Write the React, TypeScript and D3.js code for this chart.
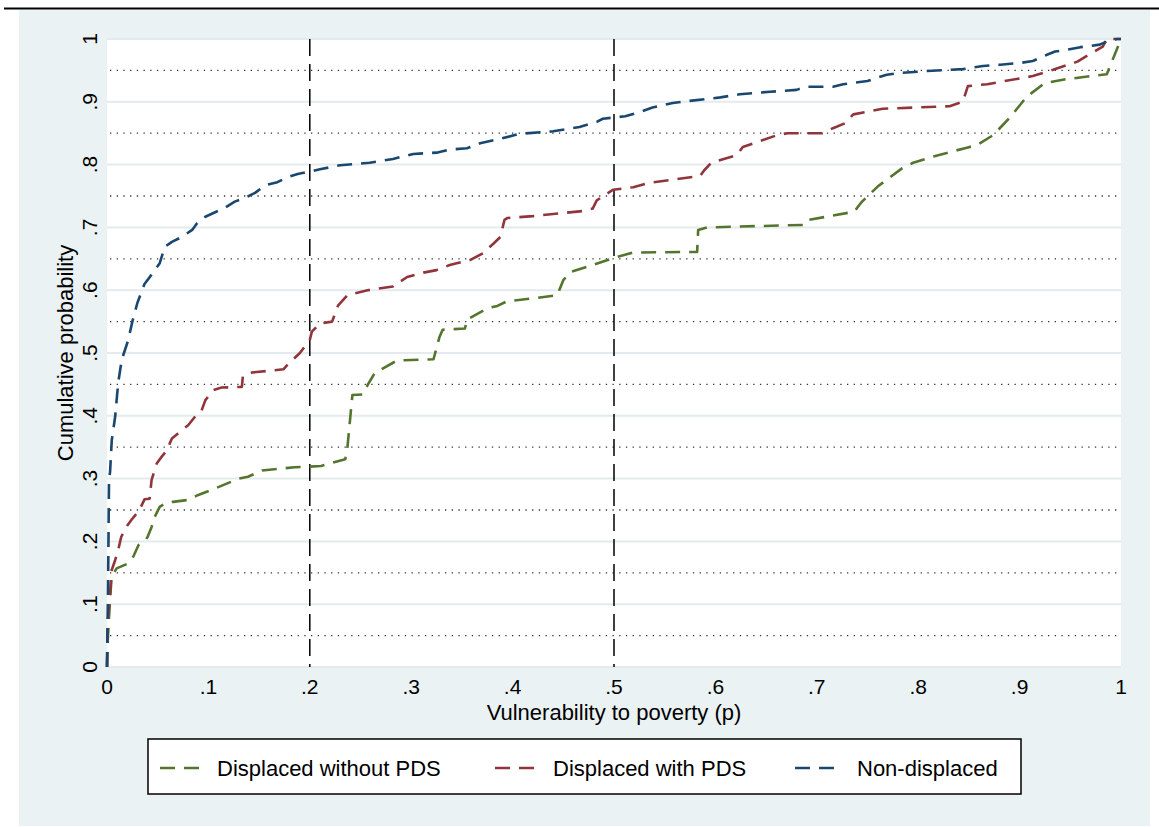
import * as d3 from "d3";
import React from "react";

// cumulative distribution of vulnerability: [p, share]
const nonDisplaced: [number, number][] = [
	[0, 0], [0.001, 0.12], [0.002, 0.3], [0.003, 0.31], [0.0047, 0.361], [0.008, 0.398],
	[0.011, 0.452], [0.0145, 0.489], [0.021, 0.521], [0.025, 0.55], [0.03, 0.58],
	[0.037, 0.61], [0.045, 0.627], [0.052, 0.643], [0.057, 0.669], [0.064, 0.677],
	[0.074, 0.685], [0.084, 0.696], [0.089, 0.707], [0.097, 0.717], [0.105, 0.723],
	[0.116, 0.731], [0.126, 0.741], [0.136, 0.747], [0.146, 0.755], [0.156, 0.767],
	[0.168, 0.772], [0.178, 0.78], [0.188, 0.785], [0.2, 0.789], [0.21, 0.7925],
	[0.23, 0.799], [0.259, 0.803], [0.282, 0.809], [0.302, 0.817], [0.325, 0.819],
	[0.338, 0.824], [0.355, 0.826], [0.368, 0.834], [0.385, 0.84], [0.407, 0.849],
	[0.44, 0.853], [0.466, 0.86], [0.483, 0.868], [0.489, 0.873], [0.511, 0.877],
	[0.526, 0.884], [0.538, 0.891], [0.558, 0.898], [0.572, 0.901], [0.605, 0.907],
	[0.624, 0.912], [0.654, 0.916], [0.68, 0.919], [0.69, 0.924], [0.716, 0.924],
	[0.726, 0.928], [0.75, 0.933], [0.759, 0.938], [0.769, 0.943], [0.782, 0.946],
	[0.809, 0.949], [0.844, 0.952], [0.864, 0.957], [0.881, 0.959], [0.901, 0.962],
	[0.913, 0.965], [0.927, 0.975], [0.935, 0.98], [0.947, 0.983], [0.96, 0.987],
	[0.979, 0.991], [0.986, 0.996], [0.996, 1], [1, 1],
];

const withPDS: [number, number][] = [
	[0, 0], [0.0007, 0.07], [0.003, 0.117], [0.0046, 0.154], [0.008, 0.17], [0.011, 0.186],
	[0.014, 0.207], [0.019, 0.223], [0.024, 0.234], [0.032, 0.25], [0.037, 0.267],
	[0.042, 0.268], [0.044, 0.298], [0.049, 0.324], [0.054, 0.335], [0.059, 0.345],
	[0.064, 0.364], [0.07, 0.372], [0.08, 0.385], [0.087, 0.399], [0.093, 0.407],
	[0.097, 0.425], [0.105, 0.441], [0.113, 0.445], [0.133, 0.446], [0.134, 0.463],
	[0.143, 0.469], [0.174, 0.474], [0.179, 0.483], [0.19, 0.4995], [0.2, 0.521],
	[0.202, 0.534], [0.21, 0.547], [0.222, 0.55], [0.228, 0.576], [0.237, 0.592],
	[0.257, 0.6], [0.282, 0.606], [0.296, 0.621], [0.312, 0.628], [0.325, 0.632],
	[0.338, 0.64], [0.358, 0.648], [0.371, 0.659], [0.381, 0.674], [0.388, 0.685],
	[0.392, 0.712], [0.395, 0.715], [0.42, 0.718], [0.469, 0.726], [0.479, 0.73],
	[0.483, 0.743], [0.499, 0.76], [0.519, 0.764], [0.535, 0.771], [0.585, 0.782],
	[0.589, 0.791], [0.596, 0.803], [0.621, 0.815], [0.627, 0.828], [0.661, 0.847],
	[0.671, 0.85], [0.705, 0.85], [0.716, 0.858], [0.728, 0.866], [0.736, 0.88],
	[0.765, 0.889], [0.799, 0.891], [0.831, 0.893], [0.844, 0.9], [0.849, 0.925],
	[0.868, 0.928], [0.913, 0.941], [0.933, 0.951], [0.957, 0.964], [0.982, 0.988],
	[0.986, 1], [1, 1],
];

const withoutPDS: [number, number][] = [
	[0, 0], [0.0007, 0.042], [0.003, 0.107], [0.0046, 0.144], [0.0095, 0.157],
	[0.021, 0.165], [0.026, 0.176], [0.031, 0.194], [0.037, 0.2], [0.04, 0.207],
	[0.044, 0.223], [0.047, 0.239], [0.052, 0.255], [0.057, 0.26], [0.065, 0.263],
	[0.08, 0.266], [0.09, 0.274], [0.103, 0.282], [0.118, 0.292], [0.13, 0.3],
	[0.139, 0.303], [0.153, 0.313], [0.185, 0.318], [0.211, 0.32], [0.235, 0.331],
	[0.237, 0.348], [0.242, 0.433], [0.252, 0.434], [0.257, 0.449], [0.264, 0.468],
	[0.286, 0.488], [0.322, 0.49], [0.328, 0.526], [0.331, 0.537], [0.353, 0.539],
	[0.355, 0.553], [0.375, 0.571], [0.385, 0.575], [0.394, 0.582], [0.42, 0.587],
	[0.444, 0.592], [0.45, 0.616], [0.457, 0.629], [0.479, 0.64], [0.499, 0.651],
	[0.519, 0.66], [0.582, 0.661], [0.583, 0.696], [0.592, 0.7], [0.688, 0.704],
	[0.692, 0.712], [0.737, 0.725], [0.744, 0.74], [0.76, 0.765], [0.784, 0.794],
	[0.795, 0.803], [0.815, 0.813], [0.848, 0.827], [0.858, 0.831], [0.874, 0.847],
	[0.891, 0.876], [0.907, 0.908], [0.925, 0.93], [0.946, 0.936], [0.986, 0.944],
	[0.991, 0.964], [1, 1],
];

const seriesNames = ["Displaced without PDS", "Displaced with PDS", "Non-displaced"];
const seriesColors = ["#55752f", "#90353b", "#1a476f"];
const seriesData = [withoutPDS, withPDS, nonDisplaced];

const majorTicks = d3.range(0, 11).map((i) => i / 10);
const minorTicks = d3.range(0, 10).map((i) => i / 10 + 0.05);
const refLines = [0.2, 0.5];
const tickLabel = (v: number) => (v === 0 ? "0" : v === 1 ? "1" : "." + Math.round(v * 10));

const FONT = "'Liberation Sans', Arial, Helvetica, sans-serif";

const App = () => {
	const W = 1159;
	const H = 827;
	const left = 107;
	const right = 1121;
	const top = 39;
	const bottom = 667;

	const x = d3.scaleLinear().domain([0, 1]).range([left, right]);
	const y = d3.scaleLinear().domain([0, 1]).range([bottom, top]);

	const line = d3
		.line<[number, number]>()
		.x((d) => x(d[0]))
		.y((d) => y(d[1]));

	const legendX = [160, 495, 795];
	const legendTextX = [217, 553, 857];

	return (
		<svg
			width={W}
			height={H}
			style={{ position: "absolute", left: 0, top: 0 }}
			fontFamily={FONT}
		>
			<rect x={0} y={0} width={W} height={H} fill="#ffffff" />
			<rect x={19} y={10} width={1131} height={816} fill="#eaf2f3" />
			<line x1={4} x2={W} y1={8.5} y2={8.5} stroke="#000" strokeWidth={2} />

			{/* plot region */}
			<rect x={left} y={top} width={right - left} height={bottom - top} fill="#ffffff" />

			{majorTicks.map((t) => (
				<line
					key={"g" + t}
					x1={left}
					x2={right}
					y1={y(t)}
					y2={y(t)}
					stroke="#e3ebee"
					strokeWidth={2}
				/>
			))}
			{minorTicks.map((t) => (
				<line
					key={"m" + t}
					x1={left + 3}
					x2={right}
					y1={y(t)}
					y2={y(t)}
					stroke="#333"
					strokeWidth={1.3}
					strokeDasharray="1.3,5.4"
				/>
			))}
			{refLines.map((r) => (
				<line
					key={"r" + r}
					x1={x(r)}
					x2={x(r)}
					y1={top}
					y2={bottom}
					stroke="#000"
					strokeWidth={1.5}
					strokeDasharray="17,8"
				/>
			))}

			{seriesData.map((d, i) => (
				<path
					key={"s" + i}
					d={line(d) || ""}
					fill="none"
					stroke={seriesColors[i]}
					strokeWidth={2.6}
					strokeDasharray="15,9"
					strokeLinejoin="round"
				/>
			))}

			{/* y axis */}
			{majorTicks.map((t) => (
				<text
					key={"yl" + t}
					transform={`translate(97,${y(t)}) rotate(-90)`}
					textAnchor="middle"
					fontSize={21}
					fill="#000"
				>
					{tickLabel(t)}
				</text>
			))}
			<text
				transform={`translate(73,${(top + bottom) / 2}) rotate(-90)`}
				textAnchor="middle"
				fontSize={22}
				fill="#000"
			>
				Cumulative probability
			</text>

			{/* x axis */}
			{majorTicks.map((t) => (
				<text
					key={"xl" + t}
					x={x(t)}
					y={694}
					textAnchor="middle"
					fontSize={21}
					fill="#000"
				>
					{tickLabel(t)}
				</text>
			))}
			<text x={(left + right) / 2} y={720} textAnchor="middle" fontSize={22} fill="#000">
				Vulnerability to poverty (p)
			</text>

			{/* legend */}
			<rect x={148} y={739} width={873} height={55} fill="#ffffff" stroke="#000" strokeWidth={1.5} />
			{seriesNames.map((n, i) => (
				<g key={"lg" + i}>
					<line
						x1={legendX[i]}
						x2={legendX[i] + 40}
						y1={768}
						y2={768}
						stroke={seriesColors[i]}
						strokeWidth={2.6}
						strokeDasharray="15,9"
					/>
					<text x={legendTextX[i]} y={776} fontSize={22} fill="#000">
						{n}
					</text>
				</g>
			))}
		</svg>
	);
};

export default App;
